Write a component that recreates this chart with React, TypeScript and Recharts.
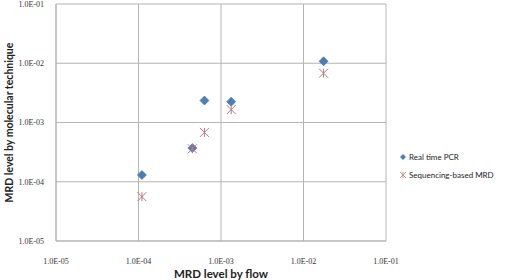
import React from 'react';
import { ScatterChart, Scatter, XAxis, YAxis, CartesianGrid, Legend } from 'recharts';

const flowLevels = [1.1e-4, 4.5e-4, 6.3e-4, 1.33e-3, 1.75e-2];
const pcrLevels = [1.3e-4, 3.7e-4, 2.35e-3, 2.25e-3, 1.08e-2];
const seqLevels = [5.6e-5, 3.6e-4, 6.8e-4, 1.65e-3, 6.8e-3];
const logTicks = [1e-5, 1e-4, 1e-3, 1e-2, 1e-1];

const pcrData = flowLevels.map((x, i) => ({ x, y: pcrLevels[i] }));
const seqData = flowLevels.map((x, i) => ({ x, y: seqLevels[i] }));

const BLUE = '#4a7ebb';
const ROSE = '#c0787a';
const GRID = '#b4b4b4';

const fmt = (v: number) => {
  const [m, e] = v.toExponential(1).split('e');
  const n = parseInt(e, 10);
  return `${m}E${n < 0 ? '-' : '+'}${String(Math.abs(n)).padStart(2, '0')}`;
};

const Diamond = (props: any) => {
  const { cx, cy } = props;
  const r = 4.5;
  return <path d={`M${cx},${cy - r}L${cx + r},${cy}L${cx},${cy + r}L${cx - r},${cy}Z`} fill={BLUE} stroke="#3d6ea8" strokeWidth={0.6} />;
};

const Star = (props: any) => {
  const { cx, cy } = props;
  const r = 4.5;
  return (
    <g stroke={ROSE} strokeWidth={1}>
      <line x1={cx - r} y1={cy - r} x2={cx + r} y2={cy + r} />
      <line x1={cx - r} y1={cy + r} x2={cx + r} y2={cy - r} />
      <line x1={cx} y1={cy - r} x2={cx} y2={cy + r} />
    </g>
  );
};

const tickStyle = { fontSize: 8, fill: '#333', fontFamily: 'Liberation Serif' };
const titleStyle = { fontSize: 11.5, fontWeight: 700, fill: '#222', fontFamily: 'Lato' };

const YTitle = (props: any) => {
  const { viewBox } = props;
  const cy = viewBox.y + viewBox.height / 2;
  return (
    <text x={9} y={cy} transform={`rotate(-90 9 ${cy})`} textAnchor="middle" dominantBaseline="central" style={{ ...titleStyle, fontSize: 10.5 }}>
      MRD level by molecular technique
    </text>
  );
};

const renderLegend = () => (
  <div style={{ fontFamily: 'Lato', fontSize: 8, color: '#222', lineHeight: '18px' }}>
    <div style={{ display: 'flex', alignItems: 'center', gap: 3 }}>
      <svg width={6} height={6}><path d="M3,0L6,3L3,6L0,3Z" fill={BLUE} /></svg>
      Real time PCR
    </div>
    <div style={{ display: 'flex', alignItems: 'center', gap: 3 }}>
      <svg width={6} height={6} stroke={ROSE} strokeWidth={0.8}>
        <line x1={0} y1={0} x2={6} y2={6} />
        <line x1={0} y1={6} x2={6} y2={0} />
        <line x1={3} y1={0} x2={3} y2={6} />
      </svg>
      Sequencing-based MRD
    </div>
  </div>
);

export default function App() {
  return (
    <div style={{ position: 'absolute', left: 0, top: 0, width: 520, height: 280, background: '#fff' }}>
      <ScatterChart width={520} height={280} margin={{ top: 4, right: 14, bottom: 0, left: 0 }}>
        <CartesianGrid stroke={GRID} strokeWidth={1} />
        <XAxis
          type="number"
          dataKey="x"
          scale="log"
          domain={[1e-5, 1e-1]}
          ticks={logTicks}
          tickFormatter={fmt}
          tick={tickStyle}
          tickLine={false}
          tickMargin={11}
          axisLine={{ stroke: GRID }}
          height={39}
          allowDataOverflow
          label={{ value: 'MRD level by flow', position: 'insideBottom', offset: 2, style: titleStyle }}
        />
        <YAxis
          type="number"
          dataKey="y"
          scale="log"
          domain={[1e-5, 1e-1]}
          ticks={logTicks}
          tickFormatter={fmt}
          tick={tickStyle}
          tickLine={false}
          tickMargin={6}
          axisLine={{ stroke: GRID }}
          width={56}
          allowDataOverflow
          label={<YTitle />}
        />
        <Legend
          layout="vertical"
          verticalAlign="top"
          align="right"
          wrapperStyle={{ left: 400, top: 148, width: 120 }}
          content={renderLegend}
        />
        <Scatter name="Real time PCR" data={pcrData} shape={Diamond} isAnimationActive={false} />
        <Scatter name="Sequencing-based MRD" data={seqData} shape={Star} isAnimationActive={false} />
      </ScatterChart>
    </div>
  );
}
